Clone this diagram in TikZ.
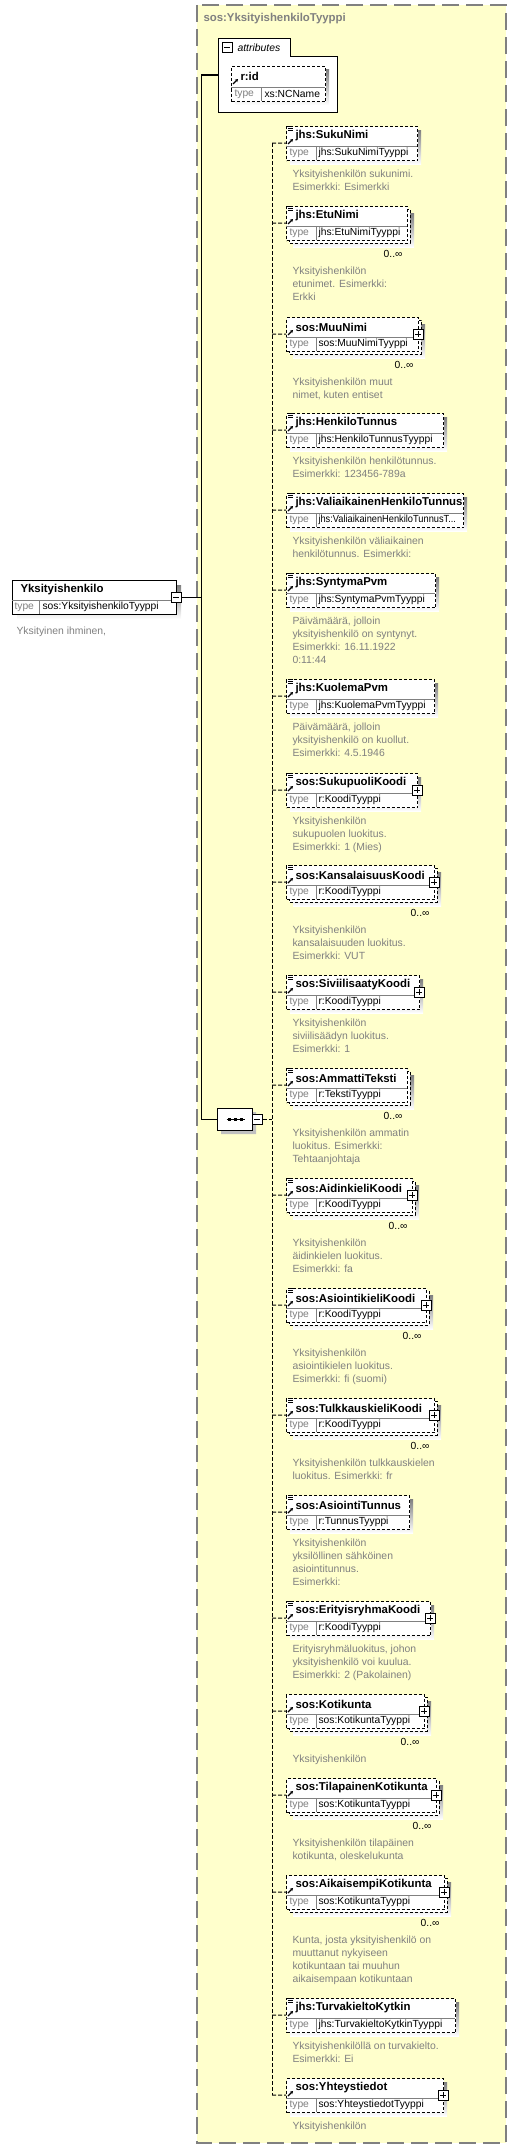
\documentclass[tikz,border=0pt]{standalone}
\usepackage{fontspec}
\setmainfont{Liberation Sans}
\usetikzlibrary{positioning,arrows.meta,shapes.misc}

\definecolor{panel}{RGB}{255,255,204}
\definecolor{shade}{RGB}{192,192,192}
\definecolor{doctext}{RGB}{128,128,128}

\tikzset{
  elbox/.style={draw, fill=white, dash pattern=on 3pt off 2pt, inner sep=0pt, anchor=north west, minimum height=34pt},
  cline/.style={dash pattern=on 4pt off 2pt},
  pmbox/.style={draw, solid, fill=white, minimum size=10pt, inner sep=0pt},
  eltitle/.style={anchor=west, inner sep=0pt, font=\fontsize{11.4}{13}\selectfont\bfseries},
  eltype/.style={anchor=west, inner sep=0pt, font=\fontsize{10.3}{13}\selectfont},
  typelbl/.style={eltype, text=doctext},
  eldoc/.style={anchor=north west, inner sep=0pt, align=left, text=doctext, font=\fontsize{10.4}{13}\selectfont},
  sepline/.style={draw=doctext, solid},
  panelline/.style={draw=doctext, line width=1.5pt, dash pattern=on 17pt off 7pt},
  refarrow/.style={solid, line width=1.2pt, -{Stealth[length=3pt,width=3.5pt]}}
}

\begin{document}
\begin{tikzpicture}[x=1pt,y=-1pt,line width=1pt]

\useasboundingbox (0,0) rectangle (516,2149);

\def\bx{286}
\def\sx{272}
\def\jx{201}

\draw[panelline, fill=panel] (197,5) rectangle (506,2143);
\node[eltitle, text=doctext] (ttl) at (203,19) {sos:YksityishenkiloTyyppi};

% root element
\fill[shade] (17,585) rectangle (181,619);
\node[draw, fill=white, anchor=north west, minimum width=164pt, minimum height=34pt, inner sep=0pt] (root) at (12,580) {};
\draw[sepline] (12,600) -- (176,600) (39,600) -- (39,614);
\node[eltitle] at (20,590) {Yksityishenkilo};
\node[typelbl] at (14,607) {type};
\node[eltype] at (42,607) {sos:YksityishenkiloTyyppi};
\node[pmbox] (rootpm) at (176,597) {};
\draw (rootpm.center) ++(-3,0) -- ++(6,0);
\node[eldoc] (rootdoc) at (16,626) {Yksityinen ihminen,};

% attributes
\draw[fill=white] (218,112) -- (218,39) -- (290,39) -- (290,57) -- (337,57) -- (337,112) -- cycle;
\node[anchor=north west, minimum width=119pt, minimum height=55pt, inner sep=0pt] (attr) at (218,57) {};
\node[pmbox] (attrpm) at (227,48) {};
\draw (attrpm.center) ++(-3,0) -- ++(6,0);
\node[anchor=west, inner sep=0pt, font=\fontsize{10.4}{13}\selectfont\itshape] at (237,48) {attributes};
\fill[shade] (235,70) rectangle (329,105);
\node[elbox, minimum width=94pt, minimum height=35pt] (rid) at (231,66) {};
\draw[sepline] (231,87) -- (325,87) (261,87) -- (261,101);
\draw[refarrow] (233,84) -- (238,79);
\node[eltitle] at (240,76) {r:id};
\node[typelbl] at (234,94) {type};
\node[eltype] at (264,94) {xs:NCName};

% sequence
\node[chamfered rectangle, chamfered rectangle xsep=4pt, chamfered rectangle ysep=4pt, draw=none, fill=shade, minimum width=35pt, minimum height=22pt, inner sep=0pt] at (238.5,1123) {};
\node[chamfered rectangle, chamfered rectangle xsep=4pt, chamfered rectangle ysep=4pt, draw, fill=white, minimum width=35pt, minimum height=22pt, inner sep=0pt] (seq) at (234.5,1119) {};
\draw (seq.center) ++(-8,0) -- ++(18,0);
\foreach \dx in {-6,0,6}
  \fill (seq.center) ++(\dx,-1.5) ++(-0.5,0) rectangle ++(3,3);
\node[pmbox] (seqpm) at (257,1119) {};
\draw (seqpm.center) ++(-3,0) -- ++(6,0);

\coordinate (j0) at (\jx,75);
\coordinate (j1) at (\jx,597);
\coordinate (j2) at (\jx,1119);
\draw (j0) -- (j2);
\draw (rootpm) -- (j1);
\draw (j0) -- (j0 -| attr.west);
\draw (j2) -- (seq);

\coordinate (s0) at (\sx,1119);
\draw[cline] (seqpm) -- (s0);

\foreach \el/\yy/\rr/\mm/\pp/\dd/\nm/\ty/\ds in {
  1/126/417/0/0/1/jhs:SukuNimi/jhs:SukuNimiTyyppi/{Yksityishenkilön sukunimi.\\Esimerkki: Esimerkki},
  2/206/407/1/0/1/jhs:EtuNimi/jhs:EtuNimiTyyppi/{Yksityishenkilön\\etunimet. Esimerkki:\\Erkki},
  3/317/418/1/1/0/sos:MuuNimi/sos:MuuNimiTyyppi/{Yksityishenkilön muut\\nimet, kuten entiset},
  4/413/443/0/0/1/jhs:HenkiloTunnus/jhs:HenkiloTunnusTyyppi/{Yksityishenkilön henkilötunnus.\\Esimerkki: 123456-789a},
  5/493/463/0/0/1/jhs:ValiaikainenHenkiloTunnus/{\scalebox{0.9}[1]{jhs:ValiaikainenHenkiloTunnusT...}}/{Yksityishenkilön väliaikainen\\henkilötunnus. Esimerkki:},
  6/573/435/0/0/1/jhs:SyntymaPvm/jhs:SyntymaPvmTyyppi/{Päivämäärä, jolloin\\yksityishenkilö on syntynyt.\\Esimerkki: 16.11.1922\\0:11:44},
  7/679/434/0/0/1/jhs:KuolemaPvm/jhs:KuolemaPvmTyyppi/{Päivämäärä, jolloin\\yksityishenkilö on kuollut.\\Esimerkki: 4.5.1946},
  8/773/417/0/1/1/sos:SukupuoliKoodi/r:KoodiTyyppi/{Yksityishenkilön\\sukupuolen luokitus.\\Esimerkki: 1 (Mies)},
  9/865/434/1/1/1/sos:KansalaisuusKoodi/r:KoodiTyyppi/{Yksityishenkilön\\kansalaisuuden luokitus.\\Esimerkki: VUT},
  10/975/419/0/1/1/sos:SiviilisaatyKoodi/r:KoodiTyyppi/{Yksityishenkilön\\siviilisäädyn luokitus.\\Esimerkki: 1},
  11/1068/407/1/0/1/sos:AmmattiTeksti/r:TekstiTyyppi/{Yksityishenkilön ammatin\\luokitus. Esimerkki:\\Tehtaanjohtaja},
  12/1178/412/1/1/1/sos:AidinkieliKoodi/r:KoodiTyyppi/{Yksityishenkilön\\äidinkielen luokitus.\\Esimerkki: fa},
  13/1288/426/1/1/1/sos:AsiointikieliKoodi/r:KoodiTyyppi/{Yksityishenkilön\\asiointikielen luokitus.\\Esimerkki: fi (suomi)},
  14/1398/434/1/1/1/sos:TulkkauskieliKoodi/r:KoodiTyyppi/{Yksityishenkilön tulkkauskielen\\luokitus. Esimerkki: fr},
  15/1495/409/0/0/1/sos:AsiointiTunnus/r:TunnusTyyppi/{Yksityishenkilön\\yksilöllinen sähköinen\\asiointitunnus.\\Esimerkki:},
  16/1601/430/0/1/1/sos:ErityisryhmaKoodi/r:KoodiTyyppi/{Erityisryhmäluokitus, johon\\yksityishenkilö voi kuulua.\\Esimerkki: 2 (Pakolainen)},
  17/1694/424/1/1/0/sos:Kotikunta/sos:KotikuntaTyyppi/{Yksityishenkilön},
  18/1778/436/1/1/0/sos:TilapainenKotikunta/sos:KotikuntaTyyppi/{Yksityishenkilön tilapäinen\\kotikunta, oleskelukunta},
  19/1875/444/1/1/0/sos:AikaisempiKotikunta/sos:KotikuntaTyyppi/{Kunta, josta yksityishenkilö on\\muuttanut nykyiseen\\kotikuntaan tai muuhun\\aikaisempaan kotikuntaan},
  20/1998/455/0/0/1/jhs:TurvakieltoKytkin/jhs:TurvakieltoKytkinTyyppi/{Yksityishenkilöllä on turvakielto.\\Esimerkki: Ei},
  21/2078/443/0/1/0/sos:Yhteystiedot/sos:YhteystiedotTyyppi/{Yksityishenkilön}}{
  \pgfmathsetmacro\w{\rr-\bx}
  \pgfmathsetmacro\off{3*\mm}
  \fill[shade] (\bx+4+\off,\yy+4+\off) rectangle (\rr+4+\off,\yy+38+\off);
  \ifnum\mm=1
    \draw[fill=white, dash pattern=on 3pt off 2pt] (\bx+3,\yy+3) rectangle (\rr+3,\yy+37);
    \node[eltype, anchor=east] at (\rr-4,\yy+48) {0..∞};
  \fi
  \node[elbox, minimum width=\w pt] (e\el) at (\bx,\yy) {};
  \draw[sepline] (\bx,\yy+20) -- (\rr,\yy+20) (\bx+30,\yy+20) -- (\bx+30,\yy+34);
  \node[eltitle] at (\bx+9,\yy+10) {\nm};
  \node[typelbl] at (\bx+3,\yy+27) {type};
  \node[eltype] at (\bx+32,\yy+27) {\ty};
  \ifnum\dd=1
    \draw[solid] (\bx+2,\yy+0.5) -- (\bx+7,\yy+0.5) (\bx+2,\yy+2.5) -- (\bx+7,\yy+2.5) (\bx+2,\yy+4.5) -- (\bx+7,\yy+4.5);
  \fi
  \draw[refarrow] (\bx+2,\yy+18) -- (\bx+7,\yy+13);
  \ifnum\pp=1
    \node[pmbox] (p\el) at (\rr,\yy+17) {};
    \draw (p\el.center) ++(-3,0) -- ++(6,0) (p\el.center) ++(0,-3) -- ++(0,6);
  \fi
  \coordinate (s\el) at (\sx,\yy+17);
  \draw[cline] (s\el) -- (e\el);
  \node[eldoc] (d\el) at (\bx+6,\yy+43+17*\mm) {\ds};
}

\draw[cline] (s1) -- (s21);

\end{tikzpicture}
\end{document}
